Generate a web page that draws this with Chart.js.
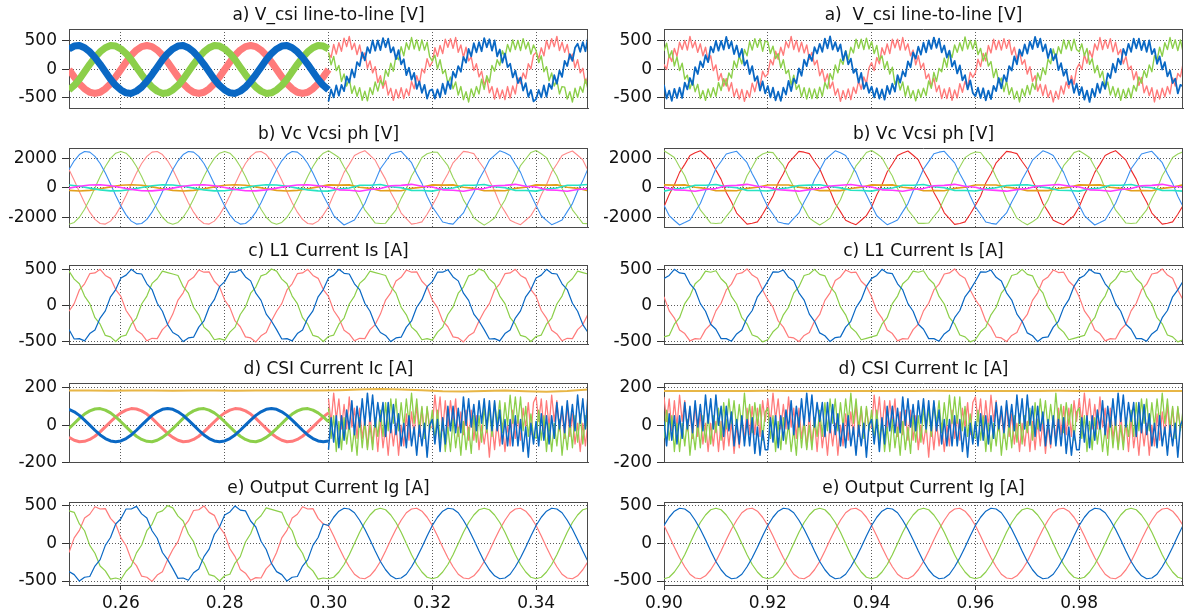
<!DOCTYPE html>
<html><head><meta charset="utf-8">
<script src="https://cdn.jsdelivr.net/npm/chart.js@4.4.1/dist/chart.umd.min.js"></script>
<style>
html,body{margin:0;padding:0;background:#fff;width:1184px;height:612px;overflow:hidden;position:relative;}
canvas{position:absolute;}
</style></head><body>
<script>
// ---------- tick labels / titles ----------
const xTicksL = [0.26, 0.28, 0.30, 0.32, 0.34];
const xTicksR = [0.90, 0.92, 0.94, 0.96, 0.98];
const yTicksA = [-500, 0, 500];
const yTicksB = [-2000, 0, 2000];
const yTicksC = [-500, 0, 500];
const yTicksD = [-200, 0, 200];
const yTicksE = [-500, 0, 500];
const titlesL = ['a) V_csi line-to-line [V]', 'b) Vc Vcsi ph [V]', 'c) L1 Current Is [A]', 'd) CSI Current Ic [A]', 'e) Output Current Ig [A]'];
const titlesR = ['a)  V_csi line-to-line [V]', 'b) Vc Vcsi ph [V]', 'c) L1 Current Is [A]', 'd) CSI Current Ic [A]', 'e) Output Current Ig [A]'];

// ---------- a) left: 0.25-0.30 (1 ms) ----------
const aL_red_s = [0,-130,-250,-340,-400,-420,-400,-340,-250,-130,0,130,250,340,400,420,400,340,250,130,
0,-130,-250,-340,-400,-420,-400,-340,-250,-130,0,130,250,340,400,420,400,340,250,130,
0,-130,-250,-340,-400,-420,-400,-340,-250,-130,0];
const aL_blue_s = [360,410,420,380,310,210,90,-40,-170,-280,-360,-410,-420,-380,-310,-210,-90,40,170,280,
360,410,420,380,310,210,90,-40,-170,-280,-360,-410,-420,-380,-310,-210,-90,40,170,280,
360,410,420,380,310,210,90,-40,-170,-280,-360];
const aL_green_s = [-360,-280,-170,-40,90,210,310,380,420,410,360,280,170,40,-90,-210,-310,-380,-420,-410,
-360,-280,-170,-40,90,210,310,380,420,410,360,280,170,40,-90,-210,-310,-380,-420,-410,
-360,-280,-170,-40,90,210,310,380,420,410,360];
// ---------- a) left: 0.30-0.35 (0.5 ms) ----------
const aL_red_n = [290,210,440,270,470,320,550,400,580,350,460,260,430,200,290,20,150,-60,50,-230,-110,-330,-200,-450,-330,-540,-350,-500,-320,-510,-340,-460,-210,-340,-110,-260,10,-60,190,50,
130,380,230,420,280,530,390,540,370,560,300,430,210,390,150,220,-20,100,-130,-30,-270,-160,-410,-300,-520,-330,-510,-360,-530,-300,-500,-290,-430,-150,-250,-60,-160,100,10,250,
300,190,380,240,510,360,540,400,580,330,480,300,440,180,270,30,170,-60,20,-240,-120];
const aL_blue_n = [-560,-350,-490,-280,-460,-270,-380,-120,-230,0,-140,130,60,300,160,390,290,510,330,510,340,550,390,540,300,390,180,340,90,180,-100,30,-180,-60,-340,-210,-410,-270,-510,-370,
-350,-510,-350,-490,-250,-430,-210,-340,-40,-140,60,-40,220,120,360,230,460,300,480,320,550,390,530,330,510,230,350,120,280,40,100,-140,-20,-240,-140,-370,-240,-480,-360,-560,
-520,-360,-490,-280,-480,-250,-340,-100,-250,-20,-130,150,60,270,150,380,450,310,480,320,560];
const aL_green_n = [300,80,230,-20,70,-210,-80,-290,-160,-420,-290,-470,-320,-540,-380,-550,-320,-440,-220,-380,-190,-280,-10,-120,110,-30,240,170,400,240,470,350,560,360,520,330,520,340,480,220,
150,250,10,170,-70,-10,-250,-130,-340,-220,-450,-300,-530,-390,-570,-340,-480,-300,-430,-170,-350,-110,-230,70,-30,170,70,330,220,440,310,520,350,510,330,540,360,480,270,430,
330,120,240,-40,50,-200,-60,-290,-190,-430,-300,-310,-520,-390,-570,-330,-490,-300,-400,-170,-350];
// ---------- a) right: 0.90-1.00 (0.5 ms) ----------
const aR_red = [90,0,250,140,370,230,480,350,510,340,580,380,490,300,450,240,390,140,240,-20,80,-190,-70,-290,-160,-380,-230,-480,-340,-520,-350,-560,-370,-490,-240,-390,-190,-300,-30,-130,
-80,170,80,320,180,390,250,490,380,580,350,510,310,480,290,430,180,300,80,160,-110,0,-220,-80,-330,-220,-450,-340,-560,-370,-520,-340,-530,-310,-420,-200,-350,-130,-250,30,
120,-20,210,100,380,260,450,280,530,380,530,340,560,340,450,240,340,80,240,20,110,-160,-80,-300,-150,-390,-280,-510,-340,-510,-320,-540,-360,-500,-250,-400,-210,-320,-50,-140,
-60,180,50,280,150,420,290,530,350,510,340,540,370,520,260,390,180,310,90,170,-80,50,-210,-110,-380,-260,-460,-270,-490,-370,-570,-380,-520,-290,-430,-220,-330,-110,-260,10,
100,0,260,110,330,210,450,340,560,350,520,370,540,310,480,260,350,100,230,0,60,-180,-40,-280,-140,-410,-290,-460,-320,-570,-360,-520,-330,-480,-300,-430,-150,-290,-70,-130,100];
const aR_blue = [-270,-510,-370,-550,-340,-500,-320,-500,-230,-350,-150,-270,40,-80,140,40,250,130,400,300,500,330,500,350,570,370,490,270,420,220,360,70,160,-80,60,-200,-120,-370,-210,-420,
-290,-490,-320,-540,-390,-550,-320,-440,-200,-380,-160,-240,20,-110,170,60,260,150,390,280,450,310,540,370,580,350,480,320,440,160,320,90,190,-60,10,-230,-60,-340,-230,-410,
-300,-490,-330,-510,-350,-530,-290,-430,-250,-390,-100,-230,-30,-120,140,40,300,190,400,260,470,300,510,360,560,380,540,300,420,210,330,50,150,-70,70,-190,-100,-350,-190,-410,
-470,-320,-500,-330,-540,-370,-520,-290,-380,-150,-330,-100,-210,60,-20,230,90,350,240,440,280,490,360,570,390,540,320,440,200,360,160,270,-10,110,-110,0,-260,-180,-410,-250,
-450,-310,-530,-370,-570,-340,-480,-250,-410,-220,-340,-70,-150,100,-50,190,90,360,250,450,310,540,370,540,340,500,310,510,270,360,100,230,0,130,-120,-20,-240,-160,-420,-270,-300];
const aR_green = [330,460,210,330,60,220,-20,110,-170,-100,-340,-190,-390,-260,-510,-370,-540,-340,-490,-320,-470,-230,-370,-160,-290,-60,-150,150,30,240,100,350,240,490,340,540,390,540,320,500,
480,280,410,190,280,30,170,-70,-10,-270,-100,-350,-270,-480,-320,-520,-330,-510,-340,-510,-310,-470,-230,-340,-70,-180,80,-60,180,90,330,170,390,290,530,370,530,350,550,360,
490,280,420,160,240,10,140,-80,40,-260,-160,-360,-220,-470,-290,-500,-370,-550,-350,-490,-330,-460,-200,-330,-50,-210,20,-40,200,40,320,210,430,300,470,330,570,360,510,360,
510,260,370,150,290,60,140,-140,10,-230,-150,-390,-200,-440,-320,-520,-380,-570,-340,-470,-280,-440,-240,-350,-60,-190,30,-90,180,100,360,190,400,280,520,360,510,330,530,350,
310,450,240,370,90,190,-60,70,-140,-30,-330,-220,-450,-300,-480,-330,-540,-350,-500,-330,-500,-280,-380,-130,-240,-20,-140,80,-40,240,160,390,230,470,350,560,370,520,330,520,310];

// ---------- b) left (1 ms big, 2 ms small) ----------
const bL_green = [-2450,-2330,-1980,-1440,-760,0,760,1440,1980,2330,2450,2330,1980,1440,760,0,-760,-1440,-1980,-2330,
-2450,-2330,-1980,-1440,-760,0,760,1440,1980,2330,2450,2330,1980,1440,760,0,-760,-1440,-1980,-2330,
-2450,-2330,-1980,-1440,-760,0,760,1440,1980,2330,
2490,2280,2040,1400,810,-60,-720,-1490,-1920,-2370,-2400,-2380,-1920,-1480,-710,-60,800,1390,2040,2290,
2400,2390,1940,1490,700,40,-810,-1380,-2020,-2280,-2510,-2290,-2030,-1390,-820,40,710,1500,1940,2380,
2510,2290,2030,1380,800,-50,-700,-1480,-1930,-2390,-2410];
const bL_red = [1230,510,-260,-1000,-1640,-2120,-2400,-2440,-2240,-1820,-1230,-510,260,1000,1640,2120,2400,2440,2240,1820,
1230,510,-260,-1000,-1640,-2120,-2400,-2440,-2240,-1820,-1230,-510,260,1000,1640,2120,2400,2440,2240,1820,
1230,510,-260,-1000,-1640,-2120,-2400,-2440,-2240,-1820,
-1270,-450,210,1040,1580,2170,2360,2500,2190,1860,1190,570,-310,-960,-1700,-2070,-2440,-2380,-2290,-1780,
-1180,-550,320,950,1680,2060,2450,2400,2300,1770,1280,470,-200,-1050,-1600,-2180,-2350,-2480,-2180,-1870,
-1290,-470,210,1060,1600,2170,2340,2480,2190,1880,1170];
const bL_blue = [1230,1820,2240,2440,2400,2120,1640,1000,260,-510,-1230,-1820,-2240,-2440,-2400,-2120,-1640,-1000,-260,510,
1230,1820,2240,2440,2400,2120,1640,1000,260,-510,-1230,-1820,-2240,-2440,-2400,-2120,-1640,-1000,-260,510,
1230,1820,2240,2440,2400,2120,1640,1000,260,-510,
-1180,-1870,-2200,-2500,-2340,-2160,-1590,-1050,-220,450,1280,1770,2280,2380,2460,2080,1690,950,300,-570,
-1280,-1780,-2300,-2390,-2440,-2060,-1690,-960,-320,560,1180,1860,2180,2490,2360,2180,1590,1040,200,-460,
-1190,-1880,-2190,-2480,-2340,-2170,-1600,-1060,-210,470,1290];
const bL_orange = [-170,-210,-170,-65,65,170,210,170,65,-65,-170,-210,-170,-65,65,170,210,170,65,-65,-170,-210,-170,-65,65,
200,180,200,35,-35,-200,-180,-200,-35,35,200,180,200,35,-35,-200,-180,-200,-35,35,200,180,200,35,-35,-200];
const bL_cyan = [192,105,-22,-140,-205,-192,-105,22,140,205,192,105,-22,-140,-205,-192,-105,22,140,205,192,105,-22,-140,-205,
-222,-75,-8,170,175,222,75,8,-170,-175,-222,-75,-8,170,175,222,75,8,-170,-175,-222,-75,-8,170,175,222];
const bL_mag = [-22,105,192,205,140,22,-105,-192,-205,-140,-22,105,192,205,140,22,-105,-192,-205,-140,-22,105,192,205,140,
52,-135,-162,-235,-110,-52,135,162,235,110,52,-135,-162,-235,-110,-52,135,162,235,110,52,-135,-162,-235,-110,-52];
// ---------- b) right ----------
const bR_green = [2490,2280,2040,1400,810,-60,-720,-1490,-1920,-2370,-2400,-2370,-1920,-1490,-720,-60,810,1400,2040,2280,
2400,2370,1920,1490,720,60,-810,-1400,-2040,-2280,-2500,-2290,-2040,-1390,-800,60,710,1480,1920,2380,
2510,2290,2030,1380,800,-50,-700,-1480,-1930,-2390,-2390,-2370,-1930,-1500,-720,-50,820,1400,2030,2270,
2410,2380,1920,1480,710,60,-800,-1390,-2040,-2290,-2490,-2280,-2040,-1400,-810,60,720,1490,1920,2370,
2490,2280,2040,1400,810,-60,-720,-1490,-1920,-2370,-2400,-2370,-1920,-1490,-720,-60,810,1400,2040,2280,2420];
const bR_red = [-1270,-450,210,1040,1580,2170,2360,2500,2190,1860,1190,570,-310,-960,-1700,-2070,-2440,-2380,-2290,-1780,
-1180,-550,320,950,1680,2060,2450,2400,2300,1770,1280,470,-200,-1050,-1600,-2180,-2350,-2480,-2180,-1870,
-1290,-470,210,1060,1600,2170,2340,2480,2190,1880,1170,550,-310,-940,-1680,-2070,-2460,-2400,-2290,-1760,
-1180,-550,320,950,1680,2060,2450,2400,2300,1770,1280,470,-200,-1050,-1600,-2180,-2350,-2480,-2180,-1870,
-1270,-450,210,1040,1580,2170,2360,2500,2190,1860,1190,570,-310,-960,-1700,-2070,-2440,-2380,-2290,-1780,-1200];
const bR_blue = [-1180,-1870,-2200,-2500,-2340,-2160,-1590,-1050,-220,450,1280,1770,2280,2380,2460,2080,1690,950,300,-570,
-1280,-1780,-2300,-2390,-2440,-2060,-1690,-960,-320,560,1180,1860,2180,2490,2360,2180,1590,1040,200,-460,
-1190,-1880,-2190,-2480,-2340,-2170,-1600,-1060,-210,470,1270,1760,2290,2400,2460,2070,1680,940,310,-550,
-1280,-1780,-2300,-2390,-2440,-2060,-1690,-960,-320,560,1180,1860,2180,2490,2360,2180,1590,1040,200,-460,
-1180,-1870,-2200,-2500,-2340,-2160,-1590,-1050,-220,450,1280,1770,2280,2380,2460,2080,1690,950,300,-570,-1260];
const bR_orange = [200,180,200,35,-35,-200,-180,-200,-35,35,190,190,190,45,-45,-190,-190,-190,-45,45,
200,180,200,35,-35,-200,-180,-200,-35,35,190,190,190,45,-45,-190,-190,-190,-45,45,200,180,200,35,-35,-200,-180,-200,-35,35,200];
const bR_cyan = [-222,-75,-8,170,175,222,75,8,-170,-175,-212,-85,2,160,185,212,85,-2,-160,-185,
-222,-75,-8,170,175,222,75,8,-170,-175,-212,-85,2,160,185,212,85,-2,-160,-185,-222,-75,-8,170,175,222,75,8,-170,-175,-222];
const bR_mag = [52,-135,-162,-235,-110,-52,135,162,235,110,42,-125,-172,-225,-120,-42,125,172,225,120,
52,-135,-162,-235,-110,-52,135,162,235,110,42,-125,-172,-225,-120,-42,125,172,225,120,52,-135,-162,-235,-110,-52,135,162,235,110,52];

// ---------- c) (1 ms) ----------
const cL_green = [475,365,300,130,25,-170,-260,-415,-435,-500,-430,-410,-260,-175,20,130,305,370,475,455,
435,415,260,170,-25,-130,-300,-365,-475,-460,-480,-370,-300,-125,-20,170,255,410,435,505,
475,365,300,130,25,-170,-260,-415,-435,-500,-430,-410,-260,-175,20,130,305,370,475,455,
435,415,260,170,-25,-130,-300,-365,-475,-460,-480,-370,-300,-125,-20,170,255,410,435,505,
475,365,300,130,25,-170,-260,-415,-435,-500,-430,-410,-260,-175,20,130,305,370,475,455,435];
const cL_red = [-80,25,215,300,440,450,500,415,375,220,125,-70,-175,-345,-395,-490,-455,-460,-335,-265,
-120,75,175,340,390,490,460,465,335,260,75,-30,-215,-295,-435,-450,-505,-420,-375,-215,
-80,25,215,300,440,450,500,415,375,220,125,-70,-175,-345,-395,-490,-455,-460,-335,-265,
-120,75,175,340,390,490,460,465,335,260,75,-30,-215,-295,-435,-450,-505,-420,-375,-215,
-80,25,215,300,440,450,500,415,375,220,125,-70,-175,-345,-395,-490,-455,-460,-335,-265,-120];
const cL_blue = [-335,-465,-460,-490,-390,-340,-175,-75,120,220,380,420,500,445,435,300,220,30,-80,-265,
-375,-415,-500,-450,-440,-300,-215,-25,80,260,330,460,460,495,395,340,170,70,-120,-215,
-335,-465,-460,-490,-390,-340,-175,-75,120,220,380,420,500,445,435,300,220,30,-80,-265,
-375,-415,-500,-450,-440,-300,-215,-25,80,260,330,460,460,495,395,340,170,70,-120,-215,
-335,-465,-460,-490,-390,-340,-175,-75,120,220,380,420,500,445,435,300,220,30,-80,-265,-375];
const cR_green = [-435,-415,-260,-170,25,130,300,365,475,460,480,370,300,125,20,-170,-255,-410,-435,-505,
-475,-365,-300,-130,-25,170,260,415,435,500,430,410,260,175,-20,-130,-305,-370,-475,-455,
-435,-415,-260,-170,25,130,300,365,475,460,480,370,300,125,20,-170,-255,-410,-435,-505,
-475,-365,-300,-130,-25,170,260,415,435,500,430,410,260,175,-20,-130,-305,-370,-475,-455,
-435,-415,-260,-170,25,130,300,365,475,460,480,370,300,125,20,-170,-255,-410,-435,-505,-475];
const cR_red = [120,-75,-175,-340,-390,-490,-460,-465,-335,-260,-75,30,215,295,435,450,505,420,375,215,
80,-25,-215,-300,-440,-450,-500,-415,-375,-220,-125,70,175,345,395,490,455,460,335,265,
120,-75,-175,-340,-390,-490,-460,-465,-335,-260,-75,30,215,295,435,450,505,420,375,215,
80,-25,-215,-300,-440,-450,-500,-415,-375,-220,-125,70,175,345,395,490,455,460,335,265,
120,-75,-175,-340,-390,-490,-460,-465,-335,-260,-75,30,215,295,435,450,505,420,375,215,80];
const cR_blue = [375,415,500,450,440,300,215,25,-80,-260,-330,-460,-460,-495,-395,-340,-170,-70,120,215,
335,465,460,490,390,340,175,75,-120,-220,-380,-420,-500,-445,-435,-300,-220,-30,80,265,
375,415,500,450,440,300,215,25,-80,-260,-330,-460,-460,-495,-395,-340,-170,-70,120,215,
335,465,460,490,390,340,175,75,-120,-220,-380,-420,-500,-445,-435,-300,-220,-30,80,265,
375,415,500,450,440,300,215,25,-80,-260,-330,-460,-460,-495,-395,-340,-170,-70,120,215,335];

// ---------- d) left ----------
const dL_blue_s = [84,71,52,27,0,-27,-52,-71,-84,-88,-84,-71,-52,-27,0,27,52,71,84,88,
84,71,52,27,0,-27,-52,-71,-84,-88,-84,-71,-52,-27,0,27,52,71,84,88,
84,71,52,27,0,-27,-52,-71,-84,-88,-84];
const dL_green_s = [-18,9,36,59,76,86,88,80,65,44,18,-9,-36,-59,-76,-86,-88,-80,-65,-44,
-18,9,36,59,76,86,88,80,65,44,18,-9,-36,-59,-76,-86,-88,-80,-65,-44,
-18,9,36,59,76,86,88,80,65,44,18];
const dL_red_s = [-65,-80,-88,-86,-76,-59,-36,-9,18,44,65,80,88,86,76,59,36,9,-18,-44,
-65,-80,-88,-86,-76,-59,-36,-9,18,44,65,80,88,86,76,59,36,9,-18,-44,
-65,-80,-88,-86,-76,-59,-36,-9,18,44,65];
const dL_red_n = [140,10,170,30,140,-20,110,-20,150,-10,90,-70,90,-70,30,-120,60,-100,20,-140,40,-120,-10,-160,10,-110,10,-160,0,-110,60,-80,70,-50,110,-60,90,-50,90,-10,
-10,160,20,150,-30,130,-20,130,10,140,-60,70,-50,80,-80,80,-80,50,-130,0,-100,0,-170,10,-130,20,-110,10,-140,0,-110,80,-70,50,-80,90,-10,120,-50,120,
150,20,140,-30,130,-10,160,20,130,-30,80,-70,110,-60,60,-100,10,-140,10,-110,20];
const dL_blue_n = [-130,40,-90,50,-120,50,-80,80,-20,130,-50,100,-10,140,0,170,20,160,-10,120,20,120,-60,120,-40,110,-50,60,-110,10,-120,50,-110,-10,-160,0,-110,10,-170,0,
30,-100,30,-140,40,-100,100,-30,100,-40,90,-40,150,0,140,-10,110,-30,130,10,140,-20,130,-30,130,-30,80,-100,30,-110,30,-110,50,-110,30,-140,-10,-170,10,-100,
20,-110,60,-80,50,-100,50,-70,120,-20,100,-40,130,-10,110,-30,160,10,140,-20,160];
const dL_green_n = [90,-70,50,-140,20,-130,40,-100,10,-140,-20,-160,40,-120,20,-130,0,-130,40,-60,80,-60,120,-30,140,10,140,-30,120,-10,140,10,170,10,140,-20,100,-70,100,-30,
80,-80,80,-80,30,-140,-10,-140,30,-120,-10,-160,20,-130,-10,-150,50,-90,50,-90,100,-40,90,-60,120,10,130,-40,120,0,160,10,150,10,150,-30,100,-60,60,-60,
-70,80,-80,50,-140,10,-140,10,-110,30,-160,-20,-130,20,-120,50,-90,60,-100,50,-40];
const dL_yel = [184,184,183,184,184,183,184,184,183,184,184,184,184,186,190,192,190,185,180,179,182,184,180,177,182,190];
// ---------- d) right (0.5 ms) ----------
const dR_red = [150,20,140,-30,130,-10,160,20,130,-30,80,-70,110,-60,60,-100,10,-140,10,-110,20,-140,20,-130,30,-110,20,-150,0,-120,40,-80,90,-50,100,-50,90,-60,130,20,
140,10,170,30,140,-20,110,-20,150,-10,90,-70,90,-70,30,-120,60,-100,20,-140,40,-120,-10,-160,10,-110,10,-160,0,-110,60,-80,70,-50,110,-60,90,-50,90,-10,
-10,160,20,150,-30,130,-20,130,10,140,-60,70,-50,80,-80,80,-80,50,-130,0,-100,0,-170,10,-130,20,-110,10,-140,0,-110,80,-70,50,-80,90,-10,120,-50,120,
150,20,140,-30,130,-10,160,20,130,-30,80,-70,110,-60,60,-100,10,-140,10,-110,20,-140,20,-130,30,-110,20,-150,0,-120,40,-80,90,-50,100,-50,90,-60,130,20,
140,10,170,30,140,-20,110,-20,150,-10,90,-70,90,-70,30,-120,60,-100,20,-140,40,-120,-10,-160,10,-110,10,-160,0,-110,60,-80,70,-50,110,-60,90,-50,90,-10,-10];
const dR_blue = [20,-110,60,-80,50,-100,50,-70,120,-20,100,-40,130,-10,110,-30,160,10,140,-20,160,0,100,-60,100,-30,70,-110,30,-100,50,-110,30,-110,40,-150,-10,-160,-30,-130,
-130,40,-90,50,-120,50,-80,80,-20,130,-50,100,-10,140,0,170,20,160,-10,120,20,120,-60,120,-40,110,-50,60,-110,10,-120,50,-110,-10,-160,0,-110,10,-170,0,
30,-100,30,-140,40,-100,100,-30,100,-40,90,-40,150,0,140,-10,110,-30,130,10,140,-20,130,-30,130,-30,80,-100,30,-110,30,-110,50,-110,30,-140,-10,-170,10,-100,
20,-110,60,-80,50,-100,50,-70,120,-20,100,-40,130,-10,110,-30,160,10,140,-20,160,0,100,-60,100,-30,70,-110,30,-100,50,-110,30,-110,40,-150,-10,-160,-30,-130,
-130,40,-90,50,-120,50,-80,80,-20,130,-50,100,-10,140,0,170,20,160,-10,120,20,120,-60,120,-40,110,-50,60,-110,10,-120,50,-110,-10,-160,0,-110,10,-170,0,30];
const dR_green = [-70,80,-80,50,-140,10,-140,10,-110,30,-160,-20,-130,20,-120,50,-90,60,-100,50,-40,90,-80,120,-20,140,10,130,-20,110,-10,170,10,110,-40,120,0,110,-80,70,
90,-70,50,-140,20,-130,40,-100,10,-140,-20,-160,40,-120,20,-130,0,-130,40,-60,80,-60,120,-30,140,10,140,-30,120,-10,140,10,170,10,140,-20,100,-70,100,-30,
80,-80,80,-80,30,-140,-10,-140,30,-120,-10,-160,20,-130,-10,-150,50,-90,50,-90,100,-40,90,-60,120,10,130,-40,120,0,160,10,150,10,150,-30,100,-60,60,-60,
-70,80,-80,50,-140,10,-140,10,-110,30,-160,-20,-130,20,-120,50,-90,60,-100,50,-40,90,-80,120,-20,140,10,130,-20,110,-10,170,10,110,-40,120,0,110,-80,70,
90,-70,50,-140,20,-130,40,-100,10,-140,-20,-160,40,-120,20,-130,0,-130,40,-60,80,-60,120,-30,140,10,140,-30,120,-10,140,10,170,10,140,-20,100,-70,100,-30,80];
const dR_yel = [182,182,181,182,182,183,182,181,182,182,182,181,182,183,182,182,181,182,182,183,182,181,182,182,182,182];

// ---------- e) (1 ms) ----------
const eL_green = [435,415,260,170,-25,-130,-300,-365,-475,-460,-480,-370,-300,-125,-20,170,255,410,435,505,
475,365,300,130,25,-170,-260,-415,-435,-500,-430,-410,-260,-175,20,130,305,370,475,455,
435,415,260,170,-25,-130,-300,-365,-475,-460,
-470,-450,-380,-280,-150,0,150,280,380,450,470,450,380,280,150,0,-150,-280,-380,-450,
-470,-450,-380,-280,-150,0,150,280,380,450,470,450,380,280,150,0,-150,-280,-380,-450,
-470,-450,-380,-280,-150,0,150,280,380,450,470];
const eL_red = [-120,75,175,340,390,490,460,465,335,260,75,-30,-215,-295,-435,-450,-505,-420,-375,-215,
-80,25,215,300,440,450,500,415,375,220,125,-70,-175,-345,-395,-490,-455,-460,-335,-265,
-120,75,175,340,390,490,460,465,335,260,
240,100,-50,-190,-310,-410,-460,-470,-430,-350,-240,-100,50,190,310,410,460,470,430,350,
240,100,-50,-190,-310,-410,-460,-470,-430,-350,-240,-100,50,190,310,410,460,470,430,350,
240,100,-50,-190,-310,-410,-460,-470,-430,-350,-240];
const eL_blue = [-375,-415,-500,-450,-440,-300,-215,-25,80,260,330,460,460,495,395,340,170,70,-120,-215,
-335,-465,-460,-490,-390,-340,-175,-75,120,220,380,420,500,445,435,300,220,30,-80,-265,
-375,-415,-500,-450,-440,-300,-215,-25,80,260,
240,350,430,470,460,410,310,190,50,-100,-240,-350,-430,-470,-460,-410,-310,-190,-50,100,
240,350,430,470,460,410,310,190,50,-100,-240,-350,-430,-470,-460,-410,-310,-190,-50,100,
240,350,430,470,460,410,310,190,50,-100,-240];
const eR_green = [-470,-450,-380,-280,-150,0,150,280,380,450,470,450,380,280,150,0,-150,-280,-380,-450,
-470,-450,-380,-280,-150,0,150,280,380,450,470,450,380,280,150,0,-150,-280,-380,-450,
-470,-450,-380,-280,-150,0,150,280,380,450,470,450,380,280,150,0,-150,-280,-380,-450,
-470,-450,-380,-280,-150,0,150,280,380,450,470,450,380,280,150,0,-150,-280,-380,-450,
-470,-450,-380,-280,-150,0,150,280,380,450,470,450,380,280,150,0,-150,-280,-380,-450,-470];
const eR_red = [240,100,-50,-190,-310,-410,-460,-470,-430,-350,-240,-100,50,190,310,410,460,470,430,350,
240,100,-50,-190,-310,-410,-460,-470,-430,-350,-240,-100,50,190,310,410,460,470,430,350,
240,100,-50,-190,-310,-410,-460,-470,-430,-350,-240,-100,50,190,310,410,460,470,430,350,
240,100,-50,-190,-310,-410,-460,-470,-430,-350,-240,-100,50,190,310,410,460,470,430,350,
240,100,-50,-190,-310,-410,-460,-470,-430,-350,-240,-100,50,190,310,410,460,470,430,350,240];
const eR_blue = [240,350,430,470,460,410,310,190,50,-100,-240,-350,-430,-470,-460,-410,-310,-190,-50,100,
240,350,430,470,460,410,310,190,50,-100,-240,-350,-430,-470,-460,-410,-310,-190,-50,100,
240,350,430,470,460,410,310,190,50,-100,-240,-350,-430,-470,-460,-410,-310,-190,-50,100,
240,350,430,470,460,410,310,190,50,-100,-240,-350,-430,-470,-460,-410,-310,-190,-50,100,
240,350,430,470,460,410,310,190,50,-100,-240,-350,-430,-470,-460,-410,-310,-190,-50,100,240];
</script>
<script>
const FONT = "'DejaVu Sans', Verdana, sans-serif";
const COL = {red:'#ff7b7b', green:'#8ccf4a', blue:'#0a68c4', bRed:'#ff8a8a', bRedR:'#ee2b2b',
  bGreen:'#98d45c', bBlue:'#3a8ff0', mag:'#ff3bff', cyan:'#27e3c4', orange:'#e3a01c', yel:'#e8b646'};
const ROW_T = [29, 148, 265, 383, 502];
const ROW_B = [112, 231, 348, 466, 585];
const SIDE = {
  L: {left: 0, width: 596, plotL: 69, plotR: 588, t0: 0.25, t1: 0.35, xt: xTicksL, titles: titlesL},
  R: {left: 596, width: 588, plotL: 664, plotR: 1183, t0: 0.90, t1: 1.00, xt: xTicksR, titles: titlesR}
};
const YW = 60;

function pts(vals, t0, dt) {
  return vals.map((v, i) => ({x: Math.round((t0 + i * dt) * 1e6) / 1e6, y: v}));
}

const framePlugin = {
  id: 'frame',
  afterDraw(chart, args, opts) {
    const {ctx, chartArea: a} = chart;
    ctx.save();
    ctx.strokeStyle = '#4a4a4a';
    ctx.lineWidth = 1;
    ctx.beginPath();
    const t = Math.round(a.top) + 0.5, r = Math.round(a.right) - 0.5;
    ctx.moveTo(Math.round(a.left), t); ctx.lineTo(r + 0.5, t);
    ctx.moveTo(r, t); ctx.lineTo(r, Math.round(a.bottom));
    ctx.stroke();
    ctx.fillStyle = '#111';
    ctx.font = '17px ' + FONT;
    ctx.textAlign = 'center';
    ctx.textBaseline = 'middle';
    ctx.fillText(opts.text, (a.left + a.right) / 2, a.top - 13);
    ctx.restore();
  }
};

function makePanel(sideKey, row, yMin, yMax, yTicks, sets) {
  const s = SIDE[sideKey];
  const top = ROW_T[row] - 28;
  const isBottom = row === 4;
  const height = isBottom ? 612 - top : ROW_B[row] - top + 12;
  const XH = isBottom ? 26 : 0;
  const cv = document.createElement('canvas');
  cv.width = s.width; cv.height = height;
  cv.style.left = s.left + 'px'; cv.style.top = top + 'px';
  cv.style.width = s.width + 'px'; cv.style.height = height + 'px';
  document.body.appendChild(cv);
  const padding = {left: s.plotL - s.left - YW, right: s.left + s.width - s.plotR, top: 28,
    bottom: height - (ROW_B[row] - top) - XH};
  const datasets = sets.map(d => ({
    data: pts(d[0], d[1], d[2]), borderColor: d[3], borderWidth: d[4],
    pointRadius: 0, tension: 0, fill: false, clip: 0, borderJoinStyle: 'round', borderCapStyle: 'butt'
  }));
  new Chart(cv, {
    type: 'line',
    data: {datasets},
    plugins: [framePlugin],
    options: {
      responsive: false, animation: false, devicePixelRatio: 1, events: [],
      parsing: false, normalized: true,
      layout: {padding},
      plugins: {legend: {display: false}, tooltip: {enabled: false}, frame: {text: s.titles[row]}},
      scales: {
        x: {
          type: 'linear', min: s.t0, max: s.t1,
          afterBuildTicks: sc => { sc.ticks = s.xt.map(v => ({value: v})); },
          afterFit: sc => { sc.height = XH; },
          ticks: {display: isBottom, autoSkip: false, maxRotation: 0, padding: 3, color: '#111',
            font: {family: FONT, size: 17}, callback: v => Number(v).toFixed(2)},
          grid: {color: '#5a5a5a', lineWidth: 1, drawTicks: isBottom, tickLength: 5,
            tickColor: '#333', tickBorderDash: []},
          border: {display: true, color: '#4a4a4a', width: 1, dash: [1, 2]}
        },
        y: {
          type: 'linear', min: yMin, max: yMax,
          afterBuildTicks: sc => { sc.ticks = yTicks.map(v => ({value: v})); },
          afterFit: sc => { sc.width = YW; },
          ticks: {autoSkip: false, padding: 5, color: '#111', font: {family: FONT, size: 17},
            callback: v => String(v)},
          grid: {color: '#5a5a5a', lineWidth: 1, drawTicks: true, tickLength: 7,
            tickColor: '#333', tickBorderDash: []},
          border: {display: true, color: '#4a4a4a', width: 1, dash: [1, 2]}
        }
      }
    }
  });
}

const MS = 0.001, HALF = 0.0005, TWO = 0.002, FOUR = 0.004;
// a)
makePanel('L', 0, -690, 710, yTicksA, [
  [aL_blue_s, 0.25, MS, COL.blue, 7], [aL_green_s, 0.25, MS, COL.green, 7], [aL_red_s, 0.25, MS, COL.red, 7],
  [aL_blue_n, 0.30, HALF, COL.blue, 1.8], [aL_green_n, 0.30, HALF, COL.green, 1.4], [aL_red_n, 0.30, HALF, COL.red, 1.4]]);
makePanel('R', 0, -690, 710, yTicksA, [
  [aR_blue, 0.90, HALF, COL.blue, 1.8], [aR_green, 0.90, HALF, COL.green, 1.4], [aR_red, 0.90, HALF, COL.red, 1.4]]);
// b)
makePanel('L', 1, -2690, 2680, yTicksB, [
  [bL_mag, 0.25, TWO, COL.mag, 1.6], [bL_cyan, 0.25, TWO, COL.cyan, 1.6], [bL_orange, 0.25, TWO, COL.orange, 1.6],
  [bL_blue, 0.25, MS, COL.bBlue, 1.1], [bL_green, 0.25, MS, COL.bGreen, 1.1], [bL_red, 0.25, MS, COL.bRed, 1.1]]);
makePanel('R', 1, -2690, 2680, yTicksB, [
  [bR_mag, 0.90, TWO, COL.mag, 1.6], [bR_cyan, 0.90, TWO, COL.cyan, 1.6], [bR_orange, 0.90, TWO, COL.orange, 1.6],
  [bR_blue, 0.90, MS, COL.bBlue, 1.1], [bR_green, 0.90, MS, COL.bGreen, 1.1], [bR_red, 0.90, MS, COL.bRedR, 1.1]]);
// c)
makePanel('L', 2, -545, 560, yTicksC, [
  [cL_blue, 0.25, MS, COL.blue, 1.2], [cL_green, 0.25, MS, COL.green, 1.2], [cL_red, 0.25, MS, COL.red, 1.2]]);
makePanel('R', 2, -545, 560, yTicksC, [
  [cR_blue, 0.90, MS, COL.blue, 1.2], [cR_green, 0.90, MS, COL.green, 1.2], [cR_red, 0.90, MS, COL.red, 1.2]]);
// d)
makePanel('L', 3, -200, 224, yTicksD, [
  [dL_yel, 0.25, FOUR, COL.yel, 2],
  [dL_blue_s, 0.25, MS, COL.blue, 3], [dL_green_s, 0.25, MS, COL.green, 3], [dL_red_s, 0.25, MS, COL.red, 3],
  [dL_blue_n, 0.30, HALF, COL.blue, 1.5], [dL_green_n, 0.30, HALF, COL.green, 1.3], [dL_red_n, 0.30, HALF, COL.red, 1.3]]);
makePanel('R', 3, -200, 224, yTicksD, [
  [dR_yel, 0.90, FOUR, COL.yel, 2],
  [dR_blue, 0.90, HALF, COL.blue, 1.5], [dR_green, 0.90, HALF, COL.green, 1.3], [dR_red, 0.90, HALF, COL.red, 1.3]]);
// e)
makePanel('L', 4, -553, 553, yTicksE, [
  [eL_blue, 0.25, MS, COL.blue, 1.2], [eL_green, 0.25, MS, COL.green, 1.2], [eL_red, 0.25, MS, COL.red, 1.2]]);
makePanel('R', 4, -553, 553, yTicksE, [
  [eR_blue, 0.90, MS, COL.blue, 1.2], [eR_green, 0.90, MS, COL.green, 1.2], [eR_red, 0.90, MS, COL.red, 1.2]]);
</script>
</body></html>
